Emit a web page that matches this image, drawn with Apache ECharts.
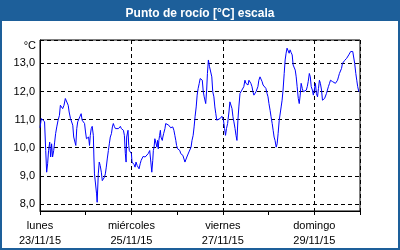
<!DOCTYPE html>
<html><head><meta charset="utf-8">
<script src="https://cdn.jsdelivr.net/npm/echarts@6/dist/echarts.min.js"></script>
<style>html,body{margin:0;padding:0;background:#fff}#c{width:400px;height:250px}</style>
</head><body><div id="c"></div>
<script>
// Hours since 23/11/15 00:00
const hours = [0,0.7,1.7,2.4,3.0,3.5,4.0,4.5,5.1,5.6,6.1,6.6,7.2,7.7,8.2,8.8,9.5,10.2,10.7,11.4,11.9,12.6,13.3,14.0,14.8,15.3,16.0,16.7,17.2,17.7,18.3,18.8,19.3,19.8,20.4,20.9,21.6,22.1,22.8,23.4,23.9,24.4,25.0,25.5,26.0,26.4,26.9,27.4,28.0,28.3,28.6,29.2,29.7,30.0,30.6,31.1,31.6,32.2,32.7,33.2,33.8,34.3,34.8,35.3,35.9,36.4,36.9,37.5,38.0,38.5,39.0,39.6,40.1,40.6,41.2,41.7,42.2,42.7,43.3,43.8,44.3,44.8,45.2,45.5,45.9,46.2,46.6,46.9,47.5,48.0,48.3,48.9,49.4,49.9,50.4,51.0,51.5,52.0,52.6,53.1,53.6,54.1,54.7,55.2,55.7,56.2,56.8,57.6,58.2,58.7,59.2,59.5,59.9,60.3,60.6,61.0,61.4,61.7,62.1,62.4,62.8,63.2,63.5,63.9,64.2,64.5,64.9,65.3,65.6,66.0,66.5,67.0,67.6,68.1,68.6,69.2,69.7,70.3,70.8,71.3,71.7,72.3,72.8,73.4,73.9,74.4,75.0,75.5,76.1,76.6,77.1,77.7,78.2,78.7,79.3,79.8,80.4,80.9,81.4,82.0,82.5,83.0,83.6,84.1,84.6,85.2,85.7,86.2,87.0,87.5,87.9,88.4,89.0,89.4,90.2,90.7,91.3,91.8,92.3,92.8,93.3,93.8,94.6,95.5,96.0,96.3,96.9,97.4,97.9,98.5,99.2,99.7,100.2,100.8,101.3,101.8,102.4,102.9,103.4,103.9,104.4,105.0,105.5,106.0,106.5,107.0,107.6,108.1,108.6,109.2,109.7,110.2,110.7,111.3,111.8,112.3,112.9,113.4,113.9,114.4,114.9,115.5,116.0,116.6,117.1,117.6,118.1,118.6,119.2,119.7,120.2,120.8,121.3,121.9,122.4,122.9,123.4,124.0,124.5,125.0,125.6,126.1,126.6,127.1,127.6,128.2,128.7,129.2,129.7,130.3,130.8,131.3,131.8,132.4,132.9,133.4,134.0,134.5,135.0,135.6,136.1,136.6,137.1,137.7,138.2,138.7,139.2,139.8,140.3,140.8,141.4,141.9,142.4,143.0,143.5,144.0,144.6,145.1,145.7,146.2,146.7,147.2,147.8,148.3,148.8,149.4,149.9,150.4,150.9,151.4,152.0,152.5,153.0,153.6,154.1,154.6,155.1,155.6,156.2,156.7,157.2,157.7,158.3,158.8,159.3,159.9,160.5,161.0,161.6,162.1,162.6,163.1,163.7,164.2,164.7,165.2,165.8,166.3,166.8,167.4];
const dewPoint = [10.71,11.04,10.98,10.92,9.9,9.13,9.43,9.9,10.2,9.67,10.14,9.67,9.9,10.2,10.5,10.74,10.98,11.15,11.51,11.51,11.39,11.51,11.75,11.69,11.51,11.27,11.04,10.98,10.8,10.38,10.32,10.08,10.68,10.92,10.98,11.1,11.21,10.98,10.95,10.86,10.56,10.32,10.26,10.38,10.08,10.44,10.68,10.76,10.44,9.67,9.07,9.0,8.36,8.06,9.07,9.49,9.37,9.13,8.83,8.77,8.95,9.07,9.31,9.6,9.9,10.14,10.38,10.5,10.74,10.86,10.76,10.68,10.68,10.74,10.68,10.71,10.76,10.68,10.71,10.62,10.44,9.79,9.49,10.38,10.32,10.62,10.08,9.9,9.96,9.79,9.49,9.49,9.4,9.31,9.49,9.37,9.43,9.25,9.43,9.55,9.6,9.69,9.76,9.67,9.73,9.73,9.79,9.9,9.49,9.13,9.55,9.9,10.02,10.32,10.38,10.26,10.02,10.26,9.96,10.26,10.44,10.62,10.38,10.32,10.26,10.38,10.5,10.56,10.68,10.86,10.86,10.86,10.8,10.74,10.71,10.76,10.74,10.62,10.44,10.26,10.08,9.96,9.93,9.9,9.79,9.85,9.73,9.67,9.49,9.55,9.67,9.73,9.85,9.79,10.02,10.26,10.44,10.74,11.1,11.45,11.87,12.1,12.29,12.46,12.52,12.4,12.0,11.81,11.57,12.05,12.64,13.12,12.88,12.94,12.52,11.99,11.81,11.45,11.21,10.98,10.92,10.98,11.04,11.12,11.1,10.98,10.68,10.44,10.68,10.86,11.27,11.63,11.57,11.39,11.1,10.92,10.68,10.44,10.26,10.98,11.45,11.93,11.99,12.05,12.11,12.17,12.4,12.29,12.35,12.23,12.4,12.46,12.29,12.17,11.99,11.87,11.81,11.99,11.93,12.17,12.4,12.52,12.46,12.35,12.23,12.23,12.29,12.11,11.93,11.81,11.57,11.33,11.1,10.86,10.62,10.38,10.26,10.02,10.14,10.5,10.98,10.98,11.45,11.69,12.05,12.64,13.12,13.36,13.54,13.48,13.36,13.48,13.39,13.3,12.94,12.88,12.76,12.52,12.17,11.75,11.57,11.87,12.29,12.11,11.99,11.93,11.99,12.05,12.17,12.35,12.64,12.52,12.17,12.05,11.87,12.05,12.29,11.93,11.81,12.11,12.4,12.29,12.05,11.69,11.75,11.75,11.81,11.93,12.05,12.17,12.29,12.4,12.35,12.35,12.35,12.35,12.29,12.23,12.4,12.52,12.64,12.7,12.82,13.0,13.06,13.1,13.12,13.18,13.24,13.3,13.36,13.42,13.48,13.42,13.36,13.0,12.64,12.4,12.17,11.99];
const tickHours = [0, 48, 96, 144];
const tickLabels = ['lunes\n23/11/15', 'miércoles\n25/11/15', 'viernes\n27/11/15', 'domingo\n29/11/15'];
const titleText = 'Punto de rocío [°C] escala';
const unitText = '°C';

const FONT = '"Liberation Sans", Arial, sans-serif';
const BLUE = '#1d5f9a';
const chart = echarts.init(document.getElementById('c'), null, {renderer: 'canvas'});
chart.setOption({
  animation: false,
  backgroundColor: '#ffffff',
  title: {
    text: titleText, left: 'center', top: 3,
    textStyle: {color: '#ffffff', fontFamily: FONT, fontWeight: 'bold', fontSize: 12}
  },
  graphic: [
    {type: 'rect', z: -10, shape: {x: 0, y: 0, width: 400, height: 21}, style: {fill: BLUE}, silent: true},
    {type: 'rect', z: -10, shape: {x: 1, y: 1, width: 398, height: 248}, style: {fill: null, stroke: BLUE, lineWidth: 2}, silent: true},
    {type: 'text', x: 36, y: 46, style: {text: unitText, align: 'right', verticalAlign: 'middle', fontFamily: FONT, fontSize: 11, fill: '#000'}, silent: true}
  ],
  grid: {left: 40, right: 40, top: 40, bottom: 39, show: true, borderColor: '#000', borderWidth: 1, backgroundColor: '#fff'},
  xAxis: [{
    type: 'value', min: 0, max: 168, interval: 24,
    axisLine: {lineStyle: {color: '#000'}},
    axisTick: {show: true, length: 4, lineStyle: {color: '#000'}},
    splitLine: {show: false},
    axisLabel: {
      margin: 7, lineHeight: 15, color: '#000', fontFamily: FONT, fontSize: 11,
      formatter: function (v) { const i = tickHours.indexOf(v); return i >= 0 ? tickLabels[i] : ''; }
    }
  }, {
    type: 'value', min: 0, max: 168, interval: 48, position: 'bottom',
    axisLine: {show: false}, axisTick: {show: false}, axisLabel: {show: false},
    splitLine: {show: true, lineStyle: {color: '#000', type: [4, 3], width: 1}}
  }],
  yAxis: {
    type: 'value', min: 7.75, max: 13.83,
    axisLine: {show: true, lineStyle: {color: '#000'}},
    axisTick: {show: false},
    splitLine: {show: true, lineStyle: {color: '#000', type: [4, 3], width: 1}},
    axisLabel: {
      margin: 5, color: '#000', fontFamily: FONT, fontSize: 11,
      formatter: function (v) { return Math.abs(v - Math.round(v)) < 1e-6 ? v.toFixed(1).replace('.', ',') : ''; }
    }
  },
  series: [{
    type: 'line', xAxisIndex: 0,
    data: hours.map((h, i) => [h, dewPoint[i]]),
    showSymbol: false, symbol: 'none',
    lineStyle: {color: '#0000ff', width: 1},
    z: 5
  }]
});
</script></body></html>
